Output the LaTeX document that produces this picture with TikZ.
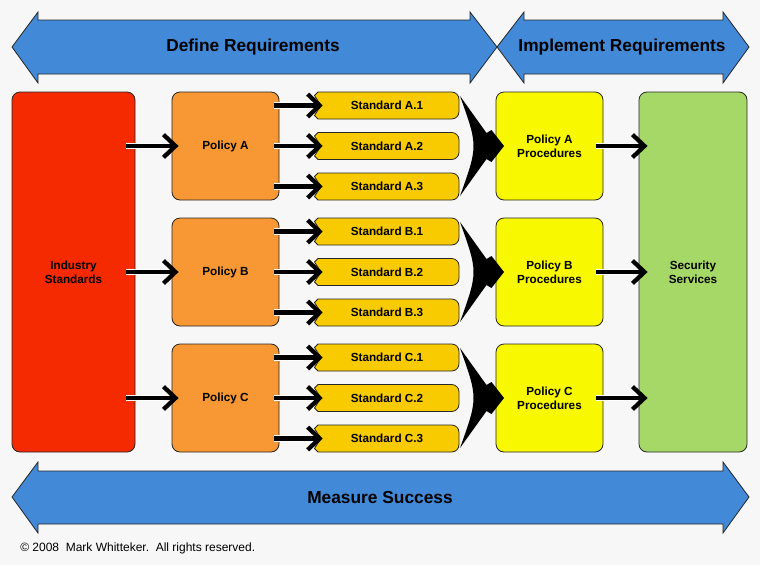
\documentclass[tikz,border=0pt]{standalone}
\usepackage{fontspec}
\setmainfont{Liberation Sans}
\usepackage{tikz}
\usetikzlibrary{arrows.meta}

\definecolor{bgGray}{RGB}{247,247,247}
\definecolor{bandBlue}{RGB}{66,137,216}
\definecolor{indRed}{RGB}{246,42,0}
\definecolor{polOrange}{RGB}{247,152,52}
\definecolor{stdGold}{RGB}{248,203,0}
\definecolor{procYellow}{RGB}{248,248,0}
\definecolor{secGreen}{RGB}{165,216,103}

\begin{document}
\begin{tikzpicture}[x=0.75pt,y=0.75pt,yscale=-1,xscale=1,
    box/.style={draw=black!85, line width=0.6pt, rounded corners=6pt, align=center, inner sep=0.75pt, font=\fontsize{8.8}{10.5}\selectfont\bfseries},
    pbox/.style={box, fill=polOrange, minimum width=80.25pt, minimum height=81pt},
    qbox/.style={box, fill=procYellow, minimum width=80.25pt, minimum height=81pt},
    stdtext/.style={inner sep=0.75pt, minimum width=108pt, minimum height=20.25pt, font=\fontsize{8.8}{10.5}\selectfont\bfseries},
    stdshape/.style={draw=black!85, line width=0.6pt, fill=stdGold},
    band/.style={draw=black!85, line width=0.6pt, fill=bandBlue},
    bandtext/.style={inner sep=0.75pt, font=\fontsize{13}{15}\selectfont\bfseries},
    chev/.style={fill=black},
    conn/.style={line width=3.2pt, -{Straight Barb[length=9pt,width=17pt]}, preaction={draw=white, line width=5.2pt, -, shorten >=12pt}}]
    \useasboundingbox (0,0) rectangle (760,565);
    \fill [bgGray] (0,0) rectangle (760,565);

    %Shape: Double Arrow (top left)
    \draw [band] (12,47) -- (38,12) -- (38,20) -- (470,20) -- (470,12) -- (497,47) -- (470,83) -- (470,74) -- (38,74) -- (38,83) -- cycle ;
    %Shape: Double Arrow (top right)
    \draw [band] (497,47) -- (524,12) -- (524,20) -- (723,20) -- (723,12) -- (749,47) -- (723,83) -- (723,74) -- (524,74) -- (524,83) -- cycle ;
    %Shape: Double Arrow (bottom)
    \draw [band] (12,497) -- (38,462) -- (38,471) -- (723,471) -- (723,462) -- (749,497) -- (723,533) -- (723,524) -- (38,524) -- (38,533) -- cycle ;

    % Text Node
    \draw (253,47.5) node [bandtext] (dr) {Define Requirements};
    % Text Node
    \draw (622,47.5) node [bandtext] (ir) {Implement Requirements};
    % Text Node
    \draw (380,497.5) node [bandtext] (ms) {Measure Success};

    %Shape: Rounded Rect
    \draw (73.5,272) node [box, fill=indRed, minimum width=92.25pt, minimum height=270pt] (ind) {Industry\\Standards};
    %Shape: Rounded Rect
    \draw (693,272) node [box, fill=secGreen, minimum width=81pt, minimum height=270pt] (sec) {Security\\Services};

    %Shape: Rounded Rect
    \draw (225.5,146) node [pbox] (pa) {Policy A};
    \draw (225.5,272) node [pbox] (pb) {Policy B};
    \draw (225.5,398) node [pbox] (pc) {Policy C};

    %Shape: Rounded Rect
    \draw (549.5,146) node [qbox] (qa) {Policy A\\Procedures};
    \draw (549.5,272) node [qbox] (qb) {Policy B\\Procedures};
    \draw (549.5,398) node [qbox] (qc) {Policy C\\Procedures};

    %Shape: Notched Tag
    \draw [stdshape] (321,105.5) -- (314.5,95.5) -- (318,92) -- (440,92) [rounded corners=5.5pt] -- (459,92) -- (459,119) -- (440,119) [sharp corners] -- (318,119) -- (314.5,115.5) -- cycle ;
    \draw [stdshape] (321,146) -- (314.5,136) -- (318,132.5) -- (440,132.5) [rounded corners=5.5pt] -- (459,132.5) -- (459,159.5) -- (440,159.5) [sharp corners] -- (318,159.5) -- (314.5,156) -- cycle ;
    \draw [stdshape] (321,186.5) -- (314.5,176.5) -- (318,173) -- (440,173) [rounded corners=5.5pt] -- (459,173) -- (459,200) -- (440,200) [sharp corners] -- (318,200) -- (314.5,196.5) -- cycle ;
    \draw [stdshape] (321,231.5) -- (314.5,221.5) -- (318,218) -- (440,218) [rounded corners=5.5pt] -- (459,218) -- (459,245) -- (440,245) [sharp corners] -- (318,245) -- (314.5,241.5) -- cycle ;
    \draw [stdshape] (321,272) -- (314.5,262) -- (318,258.5) -- (440,258.5) [rounded corners=5.5pt] -- (459,258.5) -- (459,285.5) -- (440,285.5) [sharp corners] -- (318,285.5) -- (314.5,282) -- cycle ;
    \draw [stdshape] (321,312.5) -- (314.5,302.5) -- (318,299) -- (440,299) [rounded corners=5.5pt] -- (459,299) -- (459,326) -- (440,326) [sharp corners] -- (318,326) -- (314.5,322.5) -- cycle ;
    \draw [stdshape] (321,357.5) -- (314.5,347.5) -- (318,344) -- (440,344) [rounded corners=5.5pt] -- (459,344) -- (459,371) -- (440,371) [sharp corners] -- (318,371) -- (314.5,367.5) -- cycle ;
    \draw [stdshape] (321,398) -- (314.5,388) -- (318,384.5) -- (440,384.5) [rounded corners=5.5pt] -- (459,384.5) -- (459,411.5) -- (440,411.5) [sharp corners] -- (318,411.5) -- (314.5,408) -- cycle ;
    \draw [stdshape] (321,438.5) -- (314.5,428.5) -- (318,425) -- (440,425) [rounded corners=5.5pt] -- (459,425) -- (459,452) -- (440,452) [sharp corners] -- (318,452) -- (314.5,448.5) -- cycle ;

    % Text Node
    \draw (387,105.5) node [stdtext] (sa1) {Standard A.1};
    \draw (387,146) node [stdtext] (sa2) {Standard A.2};
    \draw (387,186.5) node [stdtext] (sa3) {Standard A.3};
    \draw (387,231.5) node [stdtext] (sb1) {Standard B.1};
    \draw (387,272) node [stdtext] (sb2) {Standard B.2};
    \draw (387,312.5) node [stdtext] (sb3) {Standard B.3};
    \draw (387,357.5) node [stdtext] (sc1) {Standard C.1};
    \draw (387,398) node [stdtext] (sc2) {Standard C.2};
    \draw (387,438.5) node [stdtext] (sc3) {Standard C.3};

    %Shape: Chevron
    \fill [chev] (460,96) -- (486.5,133) -- (491.5,130) -- (504,146) -- (491.5,162) -- (486.5,159) -- (460,196) .. controls (478,146) .. (460,96) -- cycle ;
    \fill [chev] (460,222) -- (486.5,259) -- (491.5,256) -- (504,272) -- (491.5,288) -- (486.5,285) -- (460,322) .. controls (478,272) .. (460,222) -- cycle ;
    \fill [chev] (460,348) -- (486.5,385) -- (491.5,382) -- (504,398) -- (491.5,414) -- (486.5,411) -- (460,448) .. controls (478,398) .. (460,348) -- cycle ;

    %Straight Lines (industry to policies)
    \draw [conn] ([xshift=-6.75pt]ind.east |- pa.west) -- ([xshift=5.25pt]pa.west);
    \draw [conn] ([xshift=-6.75pt]ind.east |- pb.west) -- ([xshift=5.25pt]pb.west);
    \draw [conn] ([xshift=-6.75pt]ind.east |- pc.west) -- ([xshift=5.25pt]pc.west);

    %Straight Lines (policies to standards)
    \draw [conn] ([xshift=-3.75pt]pa.east |- sa1.west) -- ([xshift=6pt]sa1.west);
    \draw [conn] ([xshift=-3.75pt]pa.east |- sa2.west) -- ([xshift=6pt]sa2.west);
    \draw [conn] ([xshift=-3.75pt]pa.east |- sa3.west) -- ([xshift=6pt]sa3.west);
    \draw [conn] ([xshift=-3.75pt]pb.east |- sb1.west) -- ([xshift=6pt]sb1.west);
    \draw [conn] ([xshift=-3.75pt]pb.east |- sb2.west) -- ([xshift=6pt]sb2.west);
    \draw [conn] ([xshift=-3.75pt]pb.east |- sb3.west) -- ([xshift=6pt]sb3.west);
    \draw [conn] ([xshift=-3.75pt]pc.east |- sc1.west) -- ([xshift=6pt]sc1.west);
    \draw [conn] ([xshift=-3.75pt]pc.east |- sc2.west) -- ([xshift=6pt]sc2.west);
    \draw [conn] ([xshift=-3.75pt]pc.east |- sc3.west) -- ([xshift=6pt]sc3.west);

    %Straight Lines (procedures to services)
    \draw [conn] ([xshift=-5.25pt]qa.east) -- ([xshift=6.75pt]sec.west |- qa.east);
    \draw [conn] ([xshift=-5.25pt]qb.east) -- ([xshift=6.75pt]sec.west |- qb.east);
    \draw [conn] ([xshift=-5.25pt]qc.east) -- ([xshift=6.75pt]sec.west |- qc.east);

    % Text Node
    \draw (19,548) node [anchor=west][inner sep=0.75pt] [font=\fontsize{9}{11}\selectfont] (copy) {© 2008\ \ Mark Whitteker.\ \ All rights reserved.};

\end{tikzpicture}
\end{document}
